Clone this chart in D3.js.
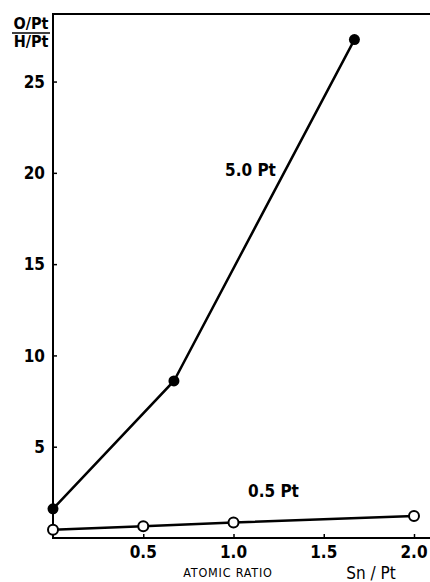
<!DOCTYPE html>
<html>
<head>
<meta charset="utf-8">
<script src="https://cdn.jsdelivr.net/npm/d3@7"></script>
<style>
  body { margin: 0; background: #fff; }
  text { font-family: "Liberation Sans Narrow", "DejaVu Sans Condensed", Arial, sans-serif; font-weight: bold; fill: #000; }
</style>
</head>
<body>
<div class="chart"></div>
<script>
// atomic ratio Sn/Pt
let snPt5 = [0, 0.67, 1.67]
let ratio5 = [1.6, 8.6, 27.3]
let snPt05 = [0, 0.5, 1.0, 2.0]
let ratio05 = [0.45, 0.65, 0.85, 1.2]
let xTicks = [0.5, 1.0, 1.5, 2.0]
let yTicks = [5, 10, 15, 20, 25]

let width = 430, height = 582

let svg = d3.select(".chart")
  .append("svg")
  .attr("width", width)
  .attr("height", height)

let x = d3.scaleLinear().domain([0, 2.0]).range([53, 414])
let y = d3.scaleLinear().domain([0, 28.7]).range([538, 14])

// frame: left, bottom, top (no right side)
svg.append("path")
  .attr("d", "M" + width + "," + y(28.7) + "H" + x(0) + "V" + y(0) + "H" + width)
  .attr("fill", "none")
  .attr("stroke", "#000")
  .attr("stroke-width", 2)

// y ticks point inward
let yAxis = svg.append("g")
  .attr("transform", "translate(" + x(0) + ",0)")
  .call(d3.axisRight(y).tickValues(yTicks).tickSize(4).tickFormat(""))
yAxis.select(".domain").remove()
yAxis.selectAll("line").attr("stroke-width", 1.5)

svg.selectAll(".ylab")
  .data(yTicks)
  .join("text")
  .attr("class", "ylab")
  .attr("x", 45)
  .attr("y", d => y(d))
  .attr("dy", "0.36em")
  .attr("text-anchor", "end")
  .attr("font-size", 17)
  .text(d => d)

let xAxis = svg.append("g")
  .attr("transform", "translate(0," + y(0) + ")")
  .call(d3.axisTop(x).tickValues(xTicks).tickSize(4).tickFormat(""))
xAxis.select(".domain").remove()
xAxis.selectAll("line").attr("stroke-width", 1.5)

svg.selectAll(".xlab")
  .data(xTicks)
  .join("text")
  .attr("class", "xlab")
  .attr("x", d => x(d))
  .attr("y", 558)
  .attr("text-anchor", "middle")
  .attr("font-size", 17)
  .text(d => d.toFixed(1))

// y title as fraction
svg.append("text").attr("x", 31).attr("y", 29).attr("text-anchor", "middle").attr("font-size", 16).text("O/Pt")
svg.append("line").attr("x1", 12).attr("x2", 50).attr("y1", 33).attr("y2", 33).attr("stroke", "#000").attr("stroke-width", 1.5)
svg.append("text").attr("x", 31).attr("y", 47).attr("text-anchor", "middle").attr("font-size", 16).text("H/Pt")

svg.append("text").attr("x", 228).attr("y", 577).attr("text-anchor", "middle").attr("font-size", 12.5).attr("letter-spacing", 0.8).style("font-weight", "normal").text("ATOMIC  RATIO")
svg.append("text").attr("x", 371).attr("y", 579).attr("text-anchor", "middle").attr("font-size", 17).style("font-weight", "normal").text("Sn / Pt")

let line = d3.line().x(d => x(d[0])).y(d => y(d[1]))

let s5 = d3.zip(snPt5, ratio5)
let s05 = d3.zip(snPt05, ratio05)

svg.append("path").datum(s5).attr("d", line).attr("fill", "none").attr("stroke", "#000").attr("stroke-width", 2.5)
svg.append("path").datum(s05).attr("d", line).attr("fill", "none").attr("stroke", "#000").attr("stroke-width", 2.5)

svg.selectAll(".dot5")
  .data(s5)
  .join("circle")
  .attr("cx", d => x(d[0]))
  .attr("cy", d => y(d[1]))
  .attr("r", 5.5)
  .attr("fill", "#000")

svg.selectAll(".dot05")
  .data(s05)
  .join("circle")
  .attr("cx", d => x(d[0]))
  .attr("cy", d => y(d[1]))
  .attr("r", 5)
  .attr("fill", "#fff")
  .attr("stroke", "#000")
  .attr("stroke-width", 2)

svg.append("text").attr("x", 225).attr("y", 176).attr("font-size", 17).text("5.0 Pt")
svg.append("text").attr("x", 248).attr("y", 497).attr("font-size", 17).text("0.5 Pt")
</script>
</body>
</html>
